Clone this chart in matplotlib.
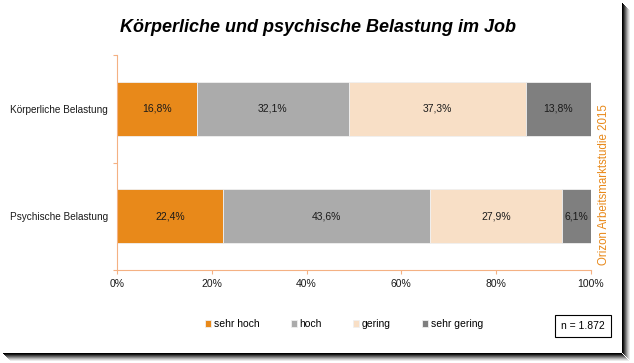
import numpy as np
import matplotlib.pyplot as plt
from matplotlib.patches import Rectangle

plt.rcParams['font.family'] = ['Liberation Sans', 'DejaVu Sans']

# data
categories = ['Körperliche Belastung', 'Psychische Belastung']
levels = ['sehr hoch', 'hoch', 'gering', 'sehr gering']
values = {
    'sehr hoch': [16.8, 22.4],
    'hoch': [32.1, 43.6],
    'gering': [37.3, 27.9],
    'sehr gering': [13.8, 6.1],
}
colors = ['#E8891A', '#ABABAB', '#F8DFC6', '#7F7F7F']
axis_col = '#F4B183'

fig = plt.figure(figsize=(6.34, 3.63), dpi=100)
ax = fig.add_axes([0.1845, 0.256, 0.7476, 0.592])

y = np.arange(len(categories))
left = np.zeros(len(categories))
for lev, col in zip(levels, colors):
    v = np.array(values[lev]) / 100
    ax.barh(y, v, left=left, height=0.5, color=col, edgecolor='#F0F0F0', linewidth=0.6, label=lev)
    for yi, (l, w) in enumerate(zip(left, v)):
        ax.text(l + w / 2, yi, f'{w * 100:.1f}%'.replace('.', ','),
                ha='center', va='center', fontsize=7.5, color='#1A1A1A')
    left += v

ax.set_xlim(0, 1)
ax.set_ylim(1.5, -0.5)
ax.set_xticks(np.linspace(0, 1, 6))
ax.set_xticklabels([f'{int(t * 100)}%' for t in np.linspace(0, 1, 6)])
ax.set_yticks(y)
ax.set_yticklabels(categories)
ax.set_yticks([-0.5, 0.5, 1.5], minor=True)
ax.tick_params(axis='y', which='major', length=0, pad=6.5, labelsize=7.2, labelcolor='#1A1A1A')
ax.tick_params(axis='y', which='minor', length=3, color=axis_col, width=0.8)
ax.tick_params(axis='x', length=3, color=axis_col, width=0.8, labelsize=7.5, labelcolor='#1A1A1A', pad=3.5)
for s in ['top', 'right']:
    ax.spines[s].set_visible(False)
for s in ['left', 'bottom']:
    ax.spines[s].set_color(axis_col)
    ax.spines[s].set_linewidth(0.8)

fig.text(0.502, 0.925, 'Körperliche und psychische Belastung im Job', ha='center', va='center',
         fontsize=13, fontweight='bold', fontstyle='italic')

fig.text(0.953, 0.492, 'Orizon Arbeitsmarktstudie 2015', rotation=90, ha='center', va='center',
         fontsize=8.3, color='#E8891A')

handles, labels = ax.get_legend_handles_labels()
fig.legend(handles, labels, loc='center', bbox_to_anchor=(0.543, 0.107), ncol=4, frameon=False,
           fontsize=7.5, handlelength=0.55, handleheight=0.55, handletextpad=0.3, columnspacing=3.0)

fig.text(0.919, 0.102, 'n = 1.872', ha='center', va='center', fontsize=7.5,
         bbox=dict(boxstyle='square,pad=0.6', facecolor='white', edgecolor='black', linewidth=0.8))

# frame with soft shadow on right and bottom
W, H = 634, 363
for i, a in enumerate([1.0, 0.9, 0.75, 0.6, 0.45, 0.3, 0.18, 0.08]):
    fig.patches.append(Rectangle(((622 + i) / W, (H - 353 - i) / H), 1 / W, (353 - 3) / H,
                                 transform=fig.transFigure, facecolor='black', edgecolor='none', alpha=a))
    fig.patches.append(Rectangle(((3 + i) / W, (H - 354 - i) / H), (622 - 3) / W, 1 / H,
                                 transform=fig.transFigure, facecolor='black', edgecolor='none', alpha=a))

fig.savefig('out.png', dpi=100)
